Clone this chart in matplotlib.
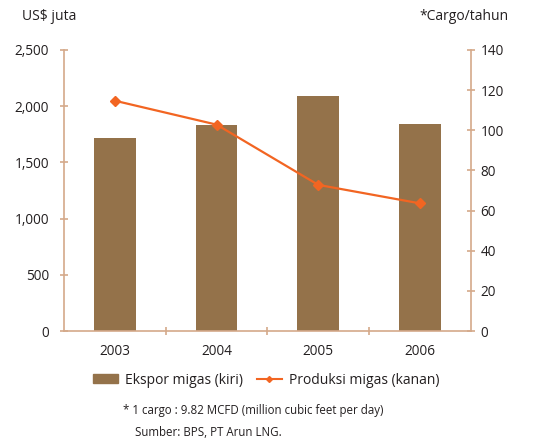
import matplotlib
matplotlib.use("Agg")
import matplotlib.pyplot as plt
from matplotlib.lines import Line2D
from matplotlib.patches import Patch

years = ["2003", "2004", "2005", "2006"]
ekspor = [1714, 1835, 2089, 1839]
produksi = [114.7, 102.8, 72.8, 63.6]
left_ticks = [0, 500, 1000, 1500, 2000, 2500]
left_labels = ["0", "500", "1,000", "1,500", "2,000", "2,500"]
right_ticks = [0, 20, 40, 60, 80, 100, 120, 140]

plt.rcParams['font.family'] = ['Open Sans', 'DejaVu Sans']
bar_color = "#94724A"
line_color = "#F26522"
spine_color = "#D4A98A"
text_color = "#231F20"
fs = 9.8

fig = plt.figure(figsize=(5.33, 4.4), dpi=100)
ax = fig.add_axes([0.1206, 0.2477, 0.883 - 0.1206, 0.8864 - 0.2477])
x = list(range(len(years)))
ax.bar(x, ekspor, width=0.41, color=bar_color, zorder=2)
ax.set_xlim(-0.5, 3.5)
ax.set_ylim(0, 2500)
ax.set_yticks(left_ticks)
ax.set_yticklabels(left_labels)
ax.set_xticks(x)
ax.set_xticklabels(years)
ax.set_xticks([0.5, 1.5, 2.5], minor=True)

ax2 = ax.twinx()
ax2.plot(x, produksi, color=line_color, lw=1.6, marker="D", ms=5.5,
         markerfacecolor=line_color, markeredgecolor=line_color, zorder=3)
ax2.set_ylim(0, 140)
ax2.set_yticks(right_ticks)

for a in (ax, ax2):
    for s in a.spines.values():
        s.set_color(spine_color)
        s.set_linewidth(1.2)
    a.spines['top'].set_visible(False)
ax.spines['right'].set_visible(False)
ax2.spines['left'].set_visible(False)
ax2.spines['bottom'].set_visible(False)

ax.tick_params(axis='y', direction='inout', length=6, width=1.2, color=spine_color,
               labelsize=fs, labelcolor=text_color, pad=8)
ax.tick_params(axis='x', which='major', length=0, labelsize=fs, labelcolor=text_color, pad=9)
ax.tick_params(axis='x', which='minor', direction='inout', length=6, width=1.2, color=spine_color)
ax2.tick_params(axis='y', direction='inout', length=6, width=1.2, color=spine_color,
                labelsize=fs, labelcolor=text_color, pad=4)

fig.text(22 / 533, 1 - 17 / 440, "US$ juta", fontsize=10, color=text_color, va='center', ha='left')
fig.text(509 / 533, 1 - 17 / 440, "*Cargo/tahun", fontsize=10, color=text_color, va='center', ha='right')

handles = [Patch(color=bar_color, label="Ekspor migas (kiri)"),
           Line2D([0], [0], color=line_color, lw=1.5, marker="D", ms=3,
                  label="Produksi migas (kanan)")]
fig.legend(handles=handles, loc='center', bbox_to_anchor=(266 / 533, 1 - 380 / 440),
           ncol=2, frameon=False, fontsize=10, handlelength=1.8, handleheight=0.55,
           columnspacing=1.0, handletextpad=0.5, labelcolor=text_color)

fig.text(123 / 533, 1 - 410 / 440, "* 1 cargo : 9.82 MCFD (million cubic feet per day)",
         fontsize=8.3, color=text_color, va='center', ha='left')
fig.text(135 / 533, 1 - 432 / 440, "Sumber: BPS, PT Arun LNG.",
         fontsize=8.3, color=text_color, va='center', ha='left')

fig.savefig("out.png", dpi=100)
